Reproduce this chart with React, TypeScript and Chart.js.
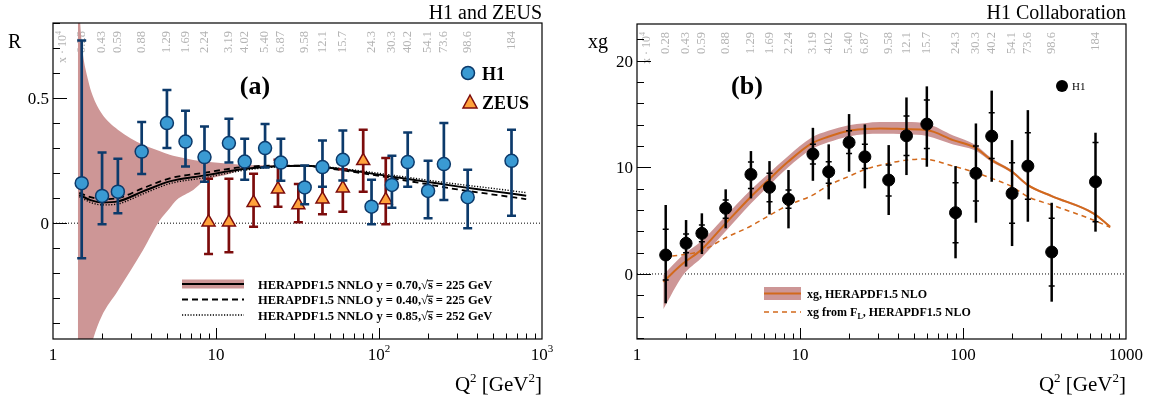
import { useEffect, useRef } from 'react';
import { Chart, registerables } from 'chart.js';

Chart.register(...registerables);

const SERIF = '"Liberation Serif", "Times New Roman", "DejaVu Serif", serif';
const F = (size: number, bold = false) => `${bold ? 'bold ' : ''}${size}px ${SERIF}`;

// ================= Panel (a): R vs Q2 =================
const h1Q2 = [1.5, 2, 2.5, 3.5, 5, 6.5, 8.5, 12, 15, 20, 25, 35, 45, 60, 90, 120, 150, 200, 250, 350, 650];
const h1R = [0.160, 0.109, 0.126, 0.286, 0.400, 0.326, 0.264, 0.320, 0.246, 0.300, 0.242, 0.143, 0.224, 0.253, 0.066, 0.153, 0.244, 0.129, 0.236, 0.104, 0.249];
const h1RHi = [0.730, 0.282, 0.257, 0.404, 0.532, 0.449, 0.386, 0.417, 0.337, 0.396, 0.337, 0.230, 0.330, 0.370, 0.173, 0.269, 0.362, 0.249, 0.400, 0.213, 0.373];
const h1RLo = [-0.140, -0.004, 0.040, 0.196, 0.300, 0.226, 0.166, 0.242, 0.173, 0.222, 0.169, 0.076, 0.146, 0.170, -0.004, 0.062, 0.146, 0.020, 0.093, -0.020, 0.030];
const xBjLabels = ['0.28', '0.43', '0.59', '0.88', '1.29', '1.69', '2.24', '3.19', '4.02', '5.40', '6.87', '9.58', '12.1', '15.7', '24.3', '30.3', '40.2', '54.1', '73.6', '98.6', '184'];

const zeusQ2 = [9, 12, 17, 24, 32, 45, 60, 80, 110];
const zeusR = [0.004, 0.004, 0.082, 0.136, 0.073, 0.096, 0.140, 0.249, 0.093];
const zeusRHi = [0.177, 0.177, 0.197, 0.253, 0.157, 0.213, 0.215, 0.373, 0.260];
const zeusRLo = [-0.123, -0.116, -0.014, 0.066, 0.004, 0.036, 0.046, 0.126, -0.004];

const bandQ2 = [1.42, 1.5, 1.64, 1.75, 1.98, 2.5, 3.57, 4.5, 5.2, 5.73, 7.25, 8.4, 11.6, 14.7, 20.5, 25, 32];
const bandRHi = [0.95, 0.72, 0.573, 0.51, 0.44, 0.373, 0.313, 0.288, 0.273, 0.266, 0.252, 0.246, 0.238, 0.233, 0.231, 0.231, 0.232];
const bandRLo = [-0.8, -0.7, -0.55, -0.47, -0.375, -0.27, -0.107, 0.01, 0.06, 0.093, 0.133, 0.168, 0.193, 0.214, 0.225, 0.226, 0.226];

const curveQ2 = [1.45, 1.7, 2.0, 2.5, 3.57, 5.2, 8.4, 14.7, 23.6, 35, 45, 73, 117, 188, 302, 483, 800];
const curveY070 = [0.113, 0.092, 0.083, 0.087, 0.127, 0.167, 0.190, 0.216, 0.227, 0.229, 0.224, 0.207, 0.187, 0.167, 0.147, 0.129, 0.110];
const curveY040 = [0.121, 0.104, 0.096, 0.100, 0.140, 0.179, 0.201, 0.224, 0.230, 0.229, 0.222, 0.203, 0.181, 0.158, 0.135, 0.116, 0.096];
const curveY085 = [0.106, 0.083, 0.073, 0.077, 0.117, 0.158, 0.181, 0.211, 0.225, 0.229, 0.226, 0.211, 0.193, 0.174, 0.156, 0.140, 0.122];

// ================= Panel (b): xg vs Q2 =================
const xgQ2 = [1.5, 2, 2.5, 3.5, 5, 6.5, 8.5, 12, 15, 20, 25, 35, 45, 60, 90, 120, 150, 200, 250, 350, 650];
const xgVal = [1.78, 2.88, 3.81, 6.16, 9.34, 8.13, 7.0, 11.25, 9.59, 12.34, 10.99, 8.81, 12.96, 14.06, 5.75, 9.44, 12.93, 7.56, 10.12, 2.06, 8.65];
const xgTotHi = [6.47, 5.06, 5.69, 7.94, 11.53, 10.59, 9.75, 13.71, 12.16, 15.0, 14.03, 12.09, 16.56, 17.6, 10.12, 14.12, 17.2, 12.56, 15.37, 6.68, 13.25];
const xgTotLo = [-2.75, 0.69, 1.87, 4.28, 7.09, 5.59, 4.28, 8.74, 7.0, 9.59, 8.03, 5.53, 9.28, 10.06, 1.47, 4.81, 8.65, 2.62, 4.9, -2.6, 3.97];
const xgStatHi = [4.19, 3.75, 4.59, 6.94, 10.5, 9.44, 7.87, 12.16, 10.52, 13.43, 12.18, 10.22, 14.81, 16.31, 8.56, 12.0, 15.12, 10.43, 13.25, 5.22, 12.34];
const xgStatLo = [-0.56, 2.0, 3.03, 5.22, 8.03, 6.78, 6.16, 10.31, 8.5, 11.31, 9.9, 7.31, 11.12, 11.78, 2.93, 6.84, 10.84, 4.75, 7.0, -1.12, 4.9];

const xgCurveQ2 = [1.45, 1.92, 2.47, 3.5, 5, 6.45, 8.44, 11.8, 14.9, 19.9, 25, 31, 45, 60, 87, 118, 150, 200, 250, 350, 630, 800];
const xgCurve = [-0.72, 1.0, 2.25, 4.75, 7.25, 8.87, 10.52, 12.25, 12.87, 13.43, 13.59, 13.65, 13.59, 13.5, 12.56, 11.87, 10.68, 9.59, 8.34, 7.31, 5.69, 4.43];
const xgBandHi = [-0.1, 1.8, 3.05, 5.45, 7.9, 9.45, 11.05, 12.8, 13.43, 13.95, 14.15, 14.25, 14.25, 14.1, 13.0, 12.15, 10.85, 9.72, 8.45, 7.4, 5.78, 4.52];
const xgBandLo = [-3.3, -0.1, 1.47, 4.0, 6.6, 8.3, 10.0, 11.7, 12.35, 12.9, 13.1, 13.15, 13.1, 12.95, 12.15, 11.6, 10.5, 9.46, 8.22, 7.2, 5.6, 4.34];

const xgFLQ2 = [1.45, 2, 2.47, 3.5, 5, 6.5, 8.44, 11.8, 14.9, 19.9, 25, 31, 45, 57, 87, 120, 150, 200, 250, 350, 630, 800];
const xgFL = [1.6, 1.85, 2.15, 3.4, 4.5, 5.5, 6.45, 7.35, 8.3, 9.15, 9.8, 10.2, 10.68, 10.78, 10.12, 9.5, 8.97, 8.18, 7.25, 6.47, 5.06, 4.37];

// ================= colours =================
const BAND = 'rgb(205,150,150)';
const H1_FILL = '#3a9ad3';
const H1_DARK = '#0c3a6b';
const ZEUS_FILL = '#ffa23c';
const ZEUS_DARK = '#7c0c0c';
const ORANGE = '#d2691c';
const GRAY = '#b3b3b3';

const pts = (xs: number[], ys: number[]) => xs.map((x, i) => ({ x, y: ys[i] }));

type Part = { t: string; f: string; dy?: number; over?: boolean };

function partsWidth(ctx: CanvasRenderingContext2D, parts: Part[]) {
  let w = 0;
  for (const p of parts) { ctx.font = p.f; w += ctx.measureText(p.t).width; }
  return w;
}
function drawParts(ctx: CanvasRenderingContext2D, parts: Part[], x: number, y: number, align: 'left' | 'center' | 'right', color = '#000') {
  const w = partsWidth(ctx, parts);
  let cx = align === 'left' ? x : align === 'center' ? x - w / 2 : x - w;
  ctx.save();
  ctx.fillStyle = color;
  ctx.strokeStyle = color;
  ctx.textAlign = 'left';
  ctx.textBaseline = 'alphabetic';
  for (const p of parts) {
    ctx.font = p.f;
    const pw = ctx.measureText(p.t).width;
    ctx.fillText(p.t, cx, y + (p.dy || 0));
    if (p.over) {
      const size = parseFloat(p.f.replace('bold ', ''));
      ctx.lineWidth = 1;
      ctx.beginPath();
      ctx.moveTo(cx - 1, y - size * 0.62);
      ctx.lineTo(cx + pw + 0.5, y - size * 0.62);
      ctx.stroke();
    }
    cx += pw;
  }
  ctx.restore();
}

function drawFrameAndTicks(chart: any, yStep: number, yMajorEvery: number) {
  const { ctx, chartArea: a } = chart;
  const xs = chart.scales.x, ys = chart.scales.y;
  ctx.save();
  ctx.strokeStyle = '#000';
  ctx.lineWidth = 1.2;
  ctx.strokeRect(a.left, a.top, a.right - a.left, a.bottom - a.top);
  ctx.lineWidth = 1;
  ctx.beginPath();
  for (let d = 0; d < 3; d++) {
    for (let m = 1; m <= 9; m++) {
      const v = m * Math.pow(10, d);
      if (v <= 1) continue;
      const px = Math.round(xs.getPixelForValue(v)) + 0.5;
      const len = m === 1 ? 11 : 5.5;
      ctx.moveTo(px, a.bottom);
      ctx.lineTo(px, a.bottom - len);
    }
  }
  const kMin = Math.ceil(ys.min / yStep - 1e-9);
  const kMax = Math.floor(ys.max / yStep + 1e-9);
  for (let k = kMin; k <= kMax; k++) {
    const py = Math.round(ys.getPixelForValue(k * yStep)) + 0.5;
    const len = k % yMajorEvery === 0 ? 14 : 7;
    ctx.moveTo(a.left, py);
    ctx.lineTo(a.left + len, py);
  }
  ctx.stroke();
  ctx.restore();
}

function drawZeroLine(chart: any) {
  const { ctx, chartArea: a } = chart;
  const py = chart.scales.y.getPixelForValue(0);
  ctx.save();
  ctx.strokeStyle = '#000';
  ctx.lineWidth = 1;
  ctx.setLineDash([1, 2]);
  ctx.beginPath();
  ctx.moveTo(a.left, py);
  ctx.lineTo(a.right, py);
  ctx.stroke();
  ctx.restore();
}

function drawTopLabels(chart: any, q2: number[]) {
  const { ctx, chartArea: a } = chart;
  const xs = chart.scales.x;
  ctx.save();
  ctx.fillStyle = GRAY;
  const top = a.top + 8;
  const put = (x: number, parts: Part[]) => {
    ctx.save();
    ctx.translate(x, top);
    ctx.rotate(-Math.PI / 2);
    const w = partsWidth(ctx, parts);
    let cx = -w;
    ctx.textAlign = 'left';
    ctx.textBaseline = 'middle';
    for (const p of parts) {
      ctx.font = p.f;
      ctx.fillText(p.t, cx, p.dy || 0);
      cx += ctx.measureText(p.t).width;
    }
    ctx.restore();
  };
  put(a.left + 10, [{ t: 'x · 10', f: F(12) }, { t: '4', f: F(8), dy: -4 }]);
  q2.forEach((q, i) => put(xs.getPixelForValue(q), [{ t: xBjLabels[i], f: F(12.5) }]));
  ctx.restore();
}

function drawErrors(chart: any, index: number) {
  const ds: any = chart.data.datasets[index];
  if (!ds.errHi) return;
  const meta = chart.getDatasetMeta(index);
  const { ctx, chartArea: a } = chart;
  const ys = chart.scales.y;
  ctx.save();
  ctx.beginPath();
  ctx.rect(a.left, a.top, a.right - a.left, a.bottom - a.top);
  ctx.clip();
  ctx.strokeStyle = ds.errColor;
  meta.data.forEach((pt: any, i: number) => {
    const x = pt.x;
    const yh = ys.getPixelForValue(ds.errHi[i]);
    const yl = ys.getPixelForValue(ds.errLo[i]);
    ctx.lineWidth = ds.errWidth;
    ctx.beginPath();
    ctx.moveTo(x, yh);
    ctx.lineTo(x, yl);
    ctx.stroke();
    if (ds.capHalf) {
      ctx.lineWidth = 2.5;
      ctx.beginPath();
      ctx.moveTo(x - ds.capHalf, yh); ctx.lineTo(x + ds.capHalf, yh);
      ctx.moveTo(x - ds.capHalf, yl); ctx.lineTo(x + ds.capHalf, yl);
      ctx.stroke();
    }
    if (ds.statHi) {
      ctx.lineWidth = 1.5;
      const sh = ys.getPixelForValue(ds.statHi[i]);
      const sl = ys.getPixelForValue(ds.statLo[i]);
      ctx.beginPath();
      ctx.moveTo(x - 3, sh); ctx.lineTo(x + 3, sh);
      ctx.moveTo(x - 3, sl); ctx.lineTo(x + 3, sl);
      ctx.stroke();
    }
  });
  ctx.restore();
}

function legendRowSqrt(ctx: CanvasRenderingContext2D, x: number, y: number, yv: string, sv: string) {
  const f = F(12.5, true);
  drawParts(ctx, [
    { t: 'HERAPDF1.5 NNLO y = ' + yv + ',', f },
    { t: '√', f },
    { t: 's', f, over: true },
    { t: ' = ' + sv + ' GeV', f },
  ], x, y, 'left');
}

function makePluginA() {
  return {
    id: 'panelA',
    beforeDatasetsDraw(chart: any) {
      drawZeroLine(chart);
      drawTopLabels(chart, h1Q2);
    },
    beforeDatasetDraw(chart: any, args: any) {
      drawErrors(chart, args.index);
    },
    afterDraw(chart: any) {
      const { ctx, chartArea: a } = chart;
      const xs = chart.scales.x, ys = chart.scales.y;
      drawFrameAndTicks(chart, 0.1, 5);
      const tl = F(17);
      const sup = F(11);
      const xl: [number, Part[]][] = [
        [1, [{ t: '1', f: tl }]],
        [10, [{ t: '10', f: tl }]],
        [100, [{ t: '10', f: tl }, { t: '2', f: sup, dy: -8 }]],
        [1000, [{ t: '10', f: tl }, { t: '3', f: sup, dy: -8 }]],
      ];
      xl.forEach(([v, p]) => drawParts(ctx, p, xs.getPixelForValue(v), a.bottom + 21, 'center'));
      [[0.5, '0.5'], [0, '0']].forEach(([v, s]) =>
        drawParts(ctx, [{ t: s as string, f: tl }], a.left - 4, ys.getPixelForValue(v as number) + 6, 'right'));
      drawParts(ctx, [{ t: 'Q', f: F(21) }, { t: '2', f: F(13), dy: -9 }, { t: ' [GeV', f: F(21) }, { t: '2', f: F(13), dy: -9 }, { t: ']', f: F(21) }], a.right, 391, 'right');
      drawParts(ctx, [{ t: 'R', f: F(20) }], 8, 48, 'left');
      drawParts(ctx, [{ t: 'H1 and ZEUS', f: F(20) }], a.right, 19, 'right');
      drawParts(ctx, [{ t: '(a)', f: F(26, true) }], 255, 94, 'center');
      // H1 / ZEUS legend
      ctx.save();
      ctx.fillStyle = H1_FILL; ctx.strokeStyle = H1_DARK; ctx.lineWidth = 1.5;
      ctx.beginPath(); ctx.arc(468, 73, 6.5, 0, Math.PI * 2); ctx.fill(); ctx.stroke();
      ctx.fillStyle = ZEUS_FILL; ctx.strokeStyle = ZEUS_DARK;
      ctx.beginPath();
      ctx.moveTo(470, 95); ctx.lineTo(477, 108); ctx.lineTo(463, 108); ctx.closePath();
      ctx.fill(); ctx.stroke();
      ctx.restore();
      drawParts(ctx, [{ t: 'H1', f: F(18, true) }], 482, 80, 'left');
      drawParts(ctx, [{ t: 'ZEUS', f: F(18, true) }], 482, 109, 'left');
      // curve legend
      ctx.save();
      ctx.fillStyle = BAND;
      ctx.fillRect(182, 279.5, 62, 9);
      ctx.strokeStyle = '#000';
      ctx.lineWidth = 2;
      ctx.beginPath(); ctx.moveTo(182, 284); ctx.lineTo(244, 284); ctx.stroke();
      ctx.setLineDash([6, 4]);
      ctx.beginPath(); ctx.moveTo(182, 299.5); ctx.lineTo(244, 299.5); ctx.stroke();
      ctx.lineWidth = 1.3;
      ctx.setLineDash([1.2, 1.6]);
      ctx.beginPath(); ctx.moveTo(182, 315); ctx.lineTo(244, 315); ctx.stroke();
      ctx.restore();
      legendRowSqrt(ctx, 258, 288.5, '0.70', '225');
      legendRowSqrt(ctx, 258, 304, '0.40', '225');
      legendRowSqrt(ctx, 258, 319.5, '0.85', '252');
    },
  };
}

function makePluginB() {
  return {
    id: 'panelB',
    beforeDatasetsDraw(chart: any) {
      drawZeroLine(chart);
      drawTopLabels(chart, xgQ2);
    },
    beforeDatasetDraw(chart: any, args: any) {
      drawErrors(chart, args.index);
    },
    afterDraw(chart: any) {
      const { ctx, chartArea: a } = chart;
      const xs = chart.scales.x, ys = chart.scales.y;
      drawFrameAndTicks(chart, 2, 5);
      const tl = F(17);
      [[1, '1'], [10, '10'], [100, '100'], [1000, '1000']].forEach(([v, s]) =>
        drawParts(ctx, [{ t: s as string, f: tl }], xs.getPixelForValue(v as number), a.bottom + 21, 'center'));
      [[20, '20'], [10, '10'], [0, '0']].forEach(([v, s]) =>
        drawParts(ctx, [{ t: s as string, f: tl }], a.left - 4, ys.getPixelForValue(v as number) + 6, 'right'));
      drawParts(ctx, [{ t: 'Q', f: F(21) }, { t: '2', f: F(13), dy: -9 }, { t: ' [GeV', f: F(21) }, { t: '2', f: F(13), dy: -9 }, { t: ']', f: F(21) }], a.right, 391, 'right');
      drawParts(ctx, [{ t: 'xg', f: F(20) }], 8, 48, 'left');
      drawParts(ctx, [{ t: 'H1 Collaboration', f: F(20) }], a.right, 19, 'right');
      drawParts(ctx, [{ t: '(b)', f: F(26, true) }], 167, 94, 'center');
      // H1 legend
      ctx.save();
      ctx.fillStyle = '#000';
      ctx.beginPath(); ctx.arc(482, 86, 6, 0, Math.PI * 2); ctx.fill();
      ctx.restore();
      drawParts(ctx, [{ t: 'H1', f: F(11) }], 492, 90, 'left');
      // curve legend
      ctx.save();
      ctx.fillStyle = BAND;
      ctx.fillRect(184, 287, 37, 13);
      ctx.strokeStyle = ORANGE;
      ctx.lineWidth = 2;
      ctx.beginPath(); ctx.moveTo(184, 293.5); ctx.lineTo(221, 293.5); ctx.stroke();
      ctx.lineWidth = 1.5;
      ctx.setLineDash([5, 4]);
      ctx.beginPath(); ctx.moveTo(184, 312); ctx.lineTo(221, 312); ctx.stroke();
      ctx.restore();
      const f = F(12, true);
      drawParts(ctx, [{ t: 'xg, HERAPDF1.5 NLO', f }], 227, 297.5, 'left');
      drawParts(ctx, [{ t: 'xg from F', f }, { t: 'L', f: F(8, true), dy: 3 }, { t: ', HERAPDF1.5 NLO', f }], 227, 316, 'left');
    },
  };
}

function buildA(canvas: HTMLCanvasElement) {
  const datasets: any[] = [
    {
      label: 'H1', data: pts(h1Q2, h1R), showLine: false,
      pointRadius: 6.5, pointBackgroundColor: H1_FILL, pointBorderColor: H1_DARK, pointBorderWidth: 1.5,
      errHi: h1RHi, errLo: h1RLo, errColor: H1_DARK, errWidth: 2.7, capHalf: 4.5,
    },
    {
      label: 'ZEUS', data: pts(zeusQ2, zeusR), showLine: false, pointStyle: 'triangle',
      pointRadius: 7.5, pointBackgroundColor: ZEUS_FILL, pointBorderColor: ZEUS_DARK, pointBorderWidth: 1.5,
      errHi: zeusRHi, errLo: zeusRLo, errColor: ZEUS_DARK, errWidth: 2.7, capHalf: 4.5,
    },
    { label: 'y=0.85', data: pts(curveQ2, curveY085), borderColor: '#000', borderWidth: 1.4, borderDash: [1.2, 1.6], pointRadius: 0, cubicInterpolationMode: 'monotone', fill: false },
    { label: 'y=0.40', data: pts(curveQ2, curveY040), borderColor: '#000', borderWidth: 1.8, borderDash: [6, 4], pointRadius: 0, cubicInterpolationMode: 'monotone', fill: false },
    { label: 'y=0.70', data: pts(curveQ2, curveY070), borderColor: '#000', borderWidth: 2, pointRadius: 0, cubicInterpolationMode: 'monotone', fill: false },
    { label: 'bandHi', data: pts(bandQ2, bandRHi), borderColor: 'rgba(0,0,0,0)', borderWidth: 1, pointRadius: 0, cubicInterpolationMode: 'monotone', fill: false },
    { label: 'bandLo', data: pts(bandQ2, bandRLo), borderColor: 'rgba(0,0,0,0)', borderWidth: 1, pointRadius: 0, cubicInterpolationMode: 'monotone', fill: '-1', backgroundColor: BAND },
  ];
  return new Chart(canvas, {
    type: 'line',
    data: { datasets },
    options: {
      animation: false, responsive: false, maintainAspectRatio: false, devicePixelRatio: 1,
      layout: { padding: { left: 53, right: 38, top: 23, bottom: 59 } },
      scales: {
        x: { type: 'logarithmic', min: 1, max: 1000, display: false },
        y: { type: 'linear', min: -0.463, max: 0.8, display: false },
      },
      plugins: { legend: { display: false }, tooltip: { enabled: false } },
    },
    plugins: [makePluginA()],
  } as any);
}

function buildB(canvas: HTMLCanvasElement) {
  const datasets: any[] = [
    {
      label: 'H1', data: pts(xgQ2, xgVal), showLine: false,
      pointRadius: 6, pointBackgroundColor: '#000', pointBorderColor: '#000', pointBorderWidth: 1,
      errHi: xgTotHi, errLo: xgTotLo, statHi: xgStatHi, statLo: xgStatLo, errColor: '#000', errWidth: 2.5, capHalf: 0,
    },
    { label: 'xg', data: pts(xgCurveQ2, xgCurve), borderColor: ORANGE, borderWidth: 2, pointRadius: 0, cubicInterpolationMode: 'monotone', fill: false },
    { label: 'xgFL', data: pts(xgFLQ2, xgFL), borderColor: ORANGE, borderWidth: 1.5, borderDash: [5, 4], pointRadius: 0, cubicInterpolationMode: 'monotone', fill: false },
    { label: 'bandHi', data: pts(xgCurveQ2, xgBandHi), borderColor: 'rgba(0,0,0,0)', borderWidth: 1, pointRadius: 0, cubicInterpolationMode: 'monotone', fill: false },
    { label: 'bandLo', data: pts(xgCurveQ2, xgBandLo), borderColor: 'rgba(0,0,0,0)', borderWidth: 1, pointRadius: 0, cubicInterpolationMode: 'monotone', fill: '-1', backgroundColor: BAND },
  ];
  return new Chart(canvas, {
    type: 'line',
    data: { datasets },
    options: {
      animation: false, responsive: false, maintainAspectRatio: false, devicePixelRatio: 1,
      layout: { padding: { left: 57, right: 31, top: 24, bottom: 59 } },
      scales: {
        x: { type: 'logarithmic', min: 1, max: 1000, display: false },
        y: { type: 'linear', min: -6.1, max: 23.45, display: false },
      },
      plugins: { legend: { display: false }, tooltip: { enabled: false } },
    },
    plugins: [makePluginB()],
  } as any);
}

export default function App() {
  const refA = useRef<HTMLCanvasElement>(null);
  const refB = useRef<HTMLCanvasElement>(null);
  useEffect(() => {
    const ca = buildA(refA.current!);
    const cb = buildB(refB.current!);
    return () => { ca.destroy(); cb.destroy(); };
  }, []);
  return (
    <div style={{ position: 'fixed', left: 0, top: 0, width: 1157, height: 398, background: '#fff', overflow: 'hidden' }}>
      <canvas ref={refA} width={580} height={398} style={{ position: 'absolute', left: 0, top: 0, width: 580, height: 398 }} />
      <canvas ref={refB} width={577} height={398} style={{ position: 'absolute', left: 580, top: 0, width: 577, height: 398 }} />
    </div>
  );
}
